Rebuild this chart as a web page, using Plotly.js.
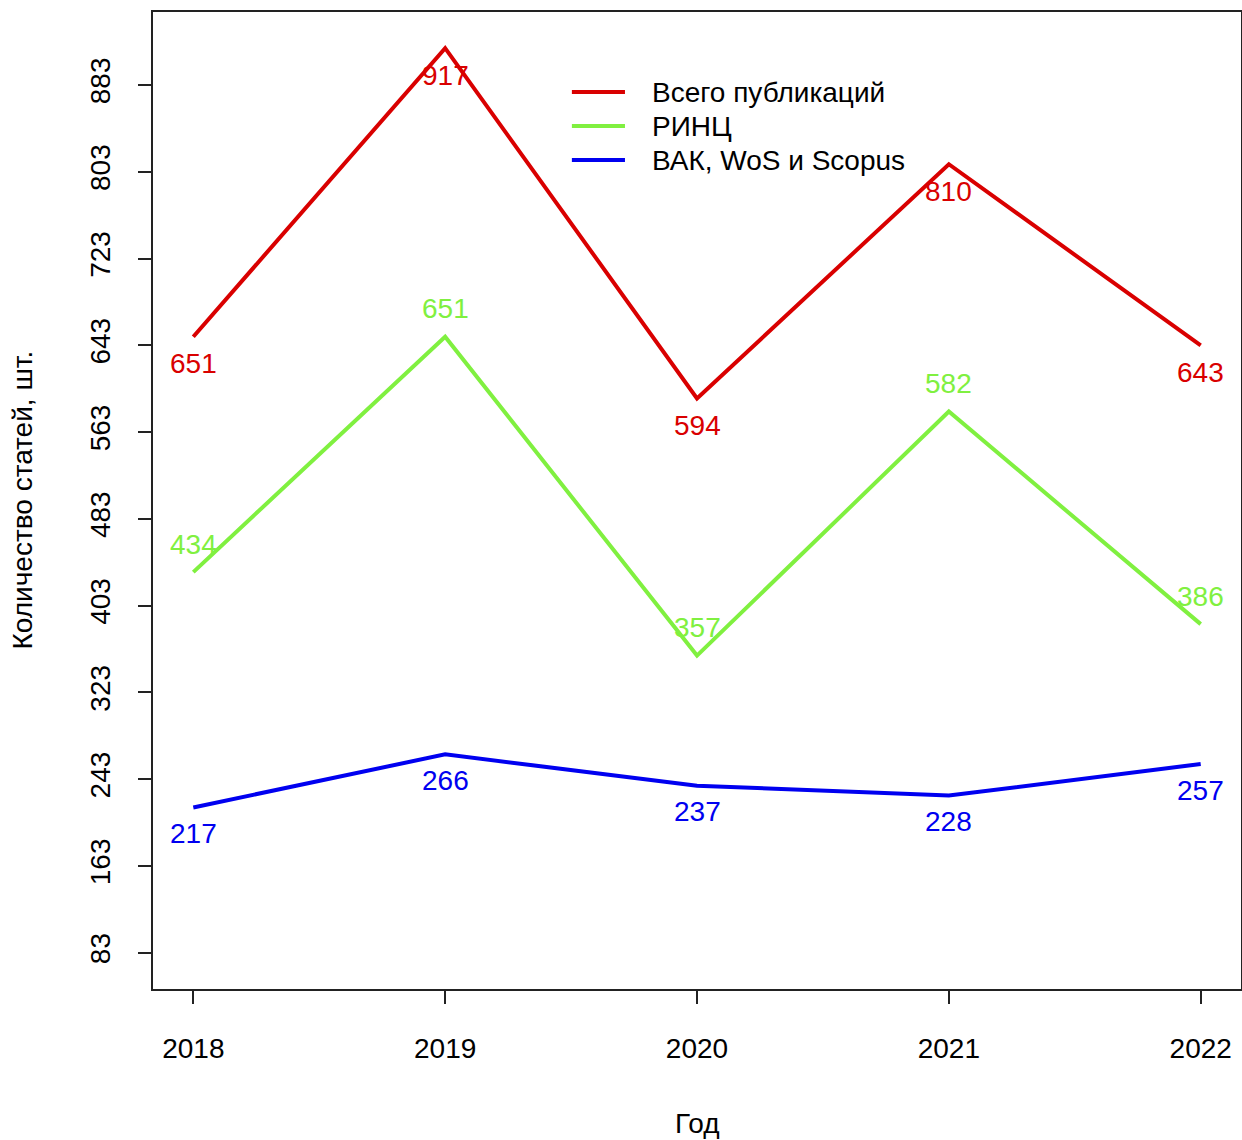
<!DOCTYPE html>
<html>
<head>
<meta charset="utf-8">
<script src="https://cdn.plot.ly/plotly-3.0.1.min.js"></script>
<style>html,body{margin:0;padding:0;background:#fff;}#chart{width:1242px;height:1140px;}</style>
</head>
<body>
<div id="chart"></div>
<script>
var years = [2018, 2019, 2020, 2021, 2022];
var seriesNames = ["Всего публикаций", "РИНЦ", "ВАК, WoS и Scopus"];
var totalPubs = [651, 917, 594, 810, 643];
var rincPubs = [434, 651, 357, 582, 386];
var vakPubs = [217, 266, 237, 228, 257];
var yTicks = [83, 163, 243, 323, 403, 483, 563, 643, 723, 803, 883];
var xTitle = "Год";
var yTitle = "Количество статей, шт.";

var seriesValues = [totalPubs, rincPubs, vakPubs];
var colors = ["#D90000", "#80F040", "#0000F0"];
var labelShift = [-27, 28, -26];
var FONT = "Liberation Sans, Arial, Helvetica, sans-serif";
var FS = 28;

var traces = seriesValues.map(function (vals, i) {
  return {
    x: years, y: vals, name: seriesNames[i], type: "scatter", mode: "lines",
    line: {color: colors[i], width: 4}, showlegend: false, hoverinfo: "x+y"
  };
});

var annotations = [];
seriesValues.forEach(function (vals, i) {
  vals.forEach(function (v, j) {
    annotations.push({
      x: years[j], y: v, xref: "x", yref: "y", text: String(v), showarrow: false,
      yshift: labelShift[i], xanchor: "center", yanchor: "middle",
      font: {family: FONT, size: FS, color: colors[i]}
    });
  });
});

// legend (no box, like R bty="n")
var shapes = [];
var legY = [0.918, 0.8833, 0.8485];
seriesNames.forEach(function (nm, i) {
  shapes.push({type: "line", xref: "paper", yref: "paper", x0: 0.385, x1: 0.4338,
    y0: legY[i], y1: legY[i], line: {color: colors[i], width: 4}});
  annotations.push({xref: "paper", yref: "paper", x: 0.4568, y: legY[i], text: nm,
    showarrow: false, xanchor: "left", yanchor: "middle",
    font: {family: FONT, size: FS, color: "#000"}});
});

annotations.push({xref: "paper", yref: "paper", x: 0, y: 0.5, xshift: -131, text: yTitle,
  textangle: -90, showarrow: false, xanchor: "center", yanchor: "middle",
  font: {family: FONT, size: FS, color: "#000"}});
annotations.push({xref: "paper", yref: "paper", x: 0.5, y: 0, yshift: -134, text: xTitle,
  showarrow: false, xanchor: "center", yanchor: "middle",
  font: {family: FONT, size: FS, color: "#000"}});

var layout = {
  width: 1242, height: 1140,
  margin: {l: 153, r: 1, t: 12, b: 151, pad: 0},
  paper_bgcolor: "#fff", plot_bgcolor: "#fff",
  font: {family: FONT, size: FS, color: "#000"},
  showlegend: false,
  xaxis: {
    range: [2017.84, 2022.16], tickvals: years, ticktext: years.map(String),
    showgrid: false, zeroline: false, showline: true, mirror: true,
    linecolor: "#222", linewidth: 2, ticks: "outside", ticklen: 13, tickwidth: 2,
    tickcolor: "#222", ticklabelstandoff: 20,
    tickfont: {family: FONT, size: FS, color: "#000"}
  },
  yaxis: {
    range: [49.64, 950.36], tickvals: yTicks, ticktext: yTicks.map(String),
    showgrid: false, zeroline: false, showline: true, mirror: true,
    linecolor: "#222", linewidth: 2, ticks: "outside", ticklen: 13, tickwidth: 2,
    tickcolor: "#222", tickangle: -90, ticklabelstandoff: 17,
    tickfont: {family: FONT, size: FS, color: "#000"}
  },
  shapes: shapes,
  annotations: annotations
};

Plotly.newPlot("chart", traces, layout, {displayModeBar: false, staticPlot: true});
</script>
</body>
</html>
